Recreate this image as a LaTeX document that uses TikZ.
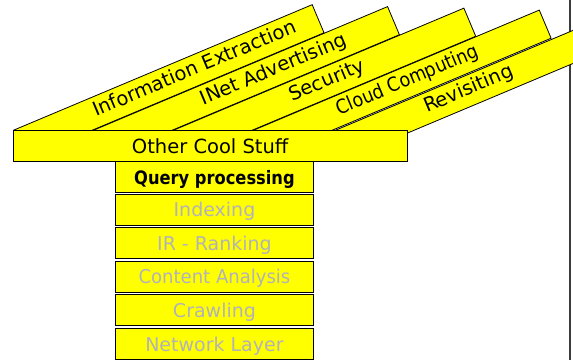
\documentclass[tikz,border=0pt]{standalone}
\usepackage{fontspec}
\setmainfont{DejaVu Sans}
\definecolor{layeryellow}{RGB}{255,255,0}
\definecolor{fadedtext}{RGB}{178,178,186}
\definecolor{rulegray}{RGB}{60,60,60}
\begin{document}
\begin{tikzpicture}[x=1pt,y=1pt,
  bandshape/.style={draw=black, line width=0.8pt, fill=layeryellow, rectangle,
    minimum height=30.5pt, inner sep=0pt, anchor=north west},
  bandtext/.style={anchor=base, inner sep=0pt, font=\fontsize{19.5}{22}\selectfont},
  layer/.style={draw=black, line width=0.9pt, fill=layeryellow, rectangle,
    inner sep=0pt, minimum height=31pt, anchor=north west,
    text height=15pt, text depth=0pt},
  stacklayer/.style={layer, minimum width=198pt},
  fadedlayer/.style={stacklayer, text=fadedtext, font=\fontsize{19}{22}\selectfont}]
\clip (0,0) rectangle (573,360);

% right-hand rule
\coordinate (ruletop) at (570,360);
\coordinate (rulebot) at (570,0);
\draw[rulegray, line width=1.6pt] (ruletop) -- (rulebot);

% slanted application bands
\begin{scope}[shift={(13,230)}, rotate=22.8, transform shape]
  \node[bandshape, minimum width=324pt] (bandIE) at (0,0) {};
  \node[bandtext] (txtIE) at (191,-20) {Information Extraction};
\end{scope}
\begin{scope}[shift={(93,230)}, rotate=22.8, transform shape]
  \node[bandshape, minimum width=319pt] (bandAD) at (0,0) {};
  \node[bandtext] (txtAD) at (190,-20) {INet Advertising};
\end{scope}
\begin{scope}[shift={(173,230)}, rotate=22.8, transform shape]
  \node[bandshape, minimum width=315pt] (bandSE) at (0,0) {};
  \node[bandtext] (txtSE) at (161,-20) {Security};
\end{scope}
\begin{scope}[shift={(253,230)}, rotate=22.8, transform shape]
  \node[bandshape, minimum width=310pt] (bandCC) at (0,0) {};
  \node[bandtext] (txtCC) at (161.5,-20) {\scalebox{0.9}[1]{Cloud Computing}};
\end{scope}
\begin{scope}[shift={(335,230)}, rotate=22.8, transform shape]
  \node[bandshape, minimum width=300pt] (bandRV) at (0,0) {};
  \node[bandtext] (txtRV) at (139,-20) {Revisiting};
\end{scope}

% base of the roof
\node[layer, minimum width=394.5pt, font=\fontsize{19.5}{22}\selectfont]
  (other) at (12.5,230) {Other Cool Stuff};

% stack of layers
\node[stacklayer, font=\fontsize{18.5}{22}\selectfont\bfseries]
  (query) at (115,199) {\scalebox{0.88}[1]{Query processing}};
\node[fadedlayer] (index) at (115,166.5) {Indexing};
\node[fadedlayer] (rank) at (115,133) {IR - Ranking};
\node[fadedlayer] (content) at (115,99.5) {\scalebox{0.95}[1]{Content Analysis}};
\node[fadedlayer] (crawl) at (115,66) {Crawling};
\node[fadedlayer] (net) at (115,32) {Network Layer};
\end{tikzpicture}
\end{document}
